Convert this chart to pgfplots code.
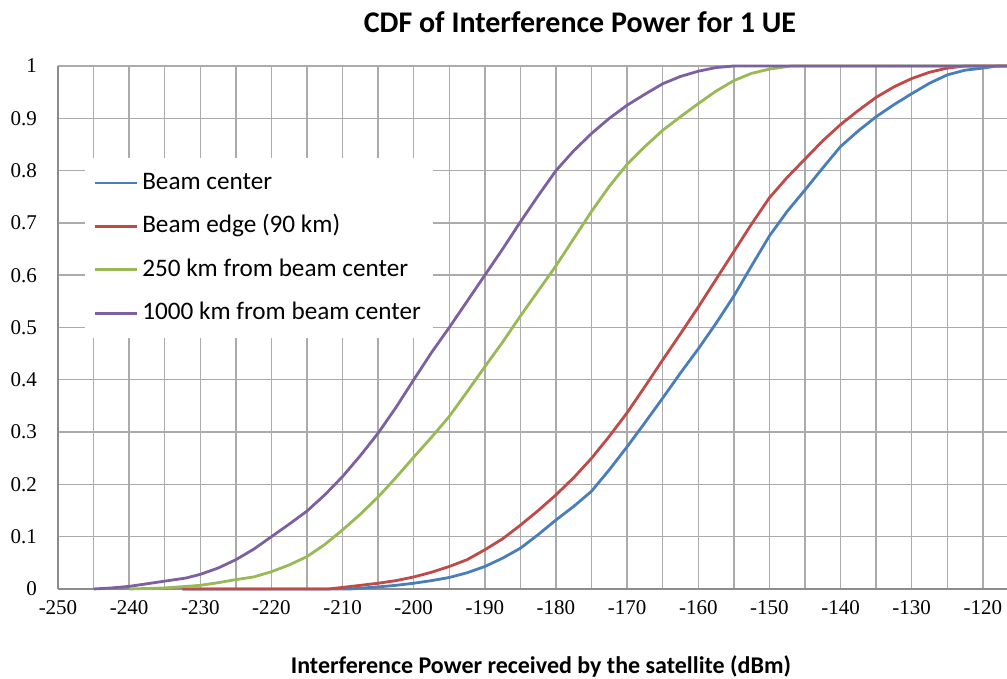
\documentclass[border=0pt]{standalone}
\usepackage{pgfplots}
\pgfplotsset{compat=1.18}
\usepackage{fontspec}
\setmainfont{Carlito}
\newfontfamily\tickfont{Liberation Serif}
\definecolor{cblue}{HTML}{4A7EBB}
\definecolor{cred}{HTML}{BE4B48}
\definecolor{cgreen}{HTML}{98B954}
\definecolor{cpurple}{HTML}{7D60A0}
\definecolor{gridc}{HTML}{ABABAB}
\definecolor{axc}{HTML}{8C8C8C}
\begin{document}
\begin{tikzpicture}
\useasboundingbox (0,0) rectangle (503.5pt,339.5pt);
\begin{axis}[
  at={(29pt,45pt)}, anchor=south west,
  width=474.5pt, height=261.5pt, scale only axis,
  xmin=-250, xmax=-116.6, ymin=0, ymax=1,
  xtick={-250,-240,...,-120},
  minor xtick={-245,-235,...,-125},
  ytick={0,0.1,...,1.01},
  yticklabels={0,0.1,0.2,0.3,0.4,0.5,0.6,0.7,0.8,0.9,1},
  grid=both,
  major grid style={gridc, line width=0.7pt},
  minor grid style={gridc, line width=0.7pt},
  axis lines*=left,
  axis line style={-, draw=axc, line width=0.7pt},
  tick style={draw=none},
  /pgf/number format/assume math mode=true,
  ticklabel style={font=\tickfont\fontsize{10.5}{12}\selectfont},
  yticklabel style={xshift=-7pt},
  xticklabel style={yshift=-2pt},
  clip=false,
  legend style={at={(0.0285,0.824)}, anchor=north west, fill=white, draw=none,
    font=\fontsize{12.6}{14}\selectfont, row sep=10.2pt, inner xsep=4pt, inner ysep=6.5pt,
    nodes={inner xsep=2pt, inner ysep=0pt, text height=9pt, text depth=2.5pt}},
  legend cell align=left,
  legend image code/.code={\draw[#1, line width=1.4pt] (0pt,0pt) -- (21pt,0pt);},
  every axis plot/.append style={line width=1.4pt, line join=round},
]
\addplot[cblue] coordinates {
(-232.5,0) (-209,0) (-207,0.002) (-205,0.004) (-202.5,0.007) (-200,0.011) (-197.5,0.016)
(-195,0.022) (-192.5,0.031) (-190,0.043) (-187.5,0.059) (-185,0.078) (-182.5,0.104)
(-180,0.132) (-177.5,0.158) (-175,0.187) (-172.5,0.228) (-170,0.272) (-167.5,0.318)
(-165,0.365) (-162.5,0.413) (-160,0.459) (-157.5,0.508) (-155,0.560) (-152.5,0.618)
(-150,0.675) (-147.5,0.722) (-145,0.763) (-142.5,0.805) (-140,0.846) (-137.5,0.876)
(-135,0.903) (-132.5,0.926) (-130,0.947) (-127.5,0.967) (-125,0.983) (-122.5,0.992)
(-120,0.996) (-118,1.0) (-116.6,1.0)};
\addlegendentry{Beam center}
\addplot[cred] coordinates {
(-232.5,0) (-212,0) (-210,0.003) (-207.5,0.007) (-205,0.011) (-202.5,0.016) (-200,0.023)
(-197.5,0.032) (-195,0.043) (-192.5,0.056) (-190,0.075) (-187.5,0.096) (-185,0.122)
(-182.5,0.150) (-180,0.180) (-177.5,0.213) (-175,0.250) (-172.5,0.292) (-170,0.337)
(-167.5,0.387) (-165,0.438) (-162.5,0.488) (-160,0.539) (-157.5,0.592) (-155,0.645)
(-152.5,0.698) (-150,0.748) (-147.5,0.787) (-145,0.822) (-142.5,0.857) (-140,0.888)
(-137.5,0.915) (-135,0.940) (-132.5,0.960) (-130,0.976) (-127.5,0.988) (-125,0.996)
(-122.5,1.0) (-116.6,1.0)};
\addlegendentry{Beam edge (90 km)}
\addplot[cgreen] coordinates {
(-240,0) (-235,0.002) (-230,0.007) (-227.5,0.012) (-225,0.018) (-222.5,0.023) (-220,0.033)
(-217.5,0.046) (-215,0.062) (-212.5,0.085) (-210,0.113) (-207.5,0.143) (-205,0.176)
(-202.5,0.213) (-200,0.252) (-197.5,0.290) (-195,0.330) (-192.5,0.377) (-190,0.425)
(-187.5,0.472) (-185,0.522) (-182.5,0.570) (-180,0.618) (-177.5,0.670) (-175,0.722)
(-172.5,0.770) (-170,0.812) (-167.5,0.846) (-165,0.877) (-162.5,0.903) (-160,0.928)
(-157.5,0.952) (-155,0.972) (-152.5,0.986) (-150,0.994) (-147,1.0) (-116.6,1.0)};
\addlegendentry{250 km from beam center}
\addplot[cpurple] coordinates {
(-245,0) (-242.5,0.002) (-240,0.005) (-237.5,0.010) (-235,0.015) (-232,0.021) (-230,0.028)
(-227.5,0.040) (-225,0.056) (-222.5,0.076) (-220,0.100) (-217.5,0.124) (-215,0.149)
(-212.5,0.180) (-210,0.215) (-207.5,0.255) (-205,0.298) (-202.5,0.347) (-200,0.400)
(-197.5,0.452) (-195,0.500) (-192.5,0.550) (-190,0.600) (-187.5,0.650) (-185,0.702)
(-182.5,0.752) (-180,0.800) (-177.5,0.838) (-175,0.871) (-172.5,0.900) (-170,0.925)
(-167.5,0.946) (-165,0.966) (-162.5,0.980) (-160,0.990) (-157.5,0.997) (-155,1.0)
(-116.6,1.0)};
\addlegendentry{1000 km from beam center}
\end{axis}
\node[font=\bfseries\fontsize{15}{17}\selectfont] at (290pt,328.5pt) {CDF of Interference Power for 1 UE};
\node[font=\bfseries\fontsize{12}{14}\selectfont] at (270.5pt,6.5pt) {Interference Power received by the satellite (dBm)};
\end{tikzpicture}
\end{document}
